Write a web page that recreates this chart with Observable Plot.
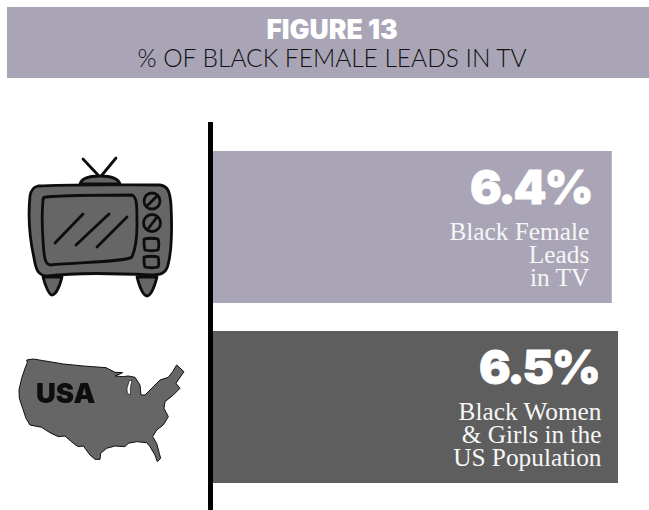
<!DOCTYPE html>
<html>
<head>
<meta charset="utf-8">
<script src="https://cdn.jsdelivr.net/npm/d3@7"></script>
<script src="https://cdn.jsdelivr.net/npm/@observablehq/plot@0.6"></script>
<style>
html,body{margin:0;padding:0;background:#fff;overflow:hidden}
#head{margin:7px 0 0 7px;height:71px;background:#a9a5b6;position:relative;width:642px}
#head div{position:absolute;left:4px;right:-4px;text-align:center;white-space:nowrap}
#t1{top:8px;font:900 26.5px/29px Inter,sans-serif;color:#fff}
#t2{top:36px;font:300 24.5px/30px Lato,sans-serif;color:#111}
svg{display:block}
</style>
</head>
<body>
<div id="head"><div id="t1">FIGURE 13</div><div id="t2">% OF BLACK FEMALE LEADS IN TV</div></div>
<div id="chart"></div>
<script>
const categories = ["Black Female Leads in TV", "Black Women & Girls in the US Population"];
const values = [6.4, 6.5];
const valueLabels = ["6.4%", "6.5%"];
const descriptions = ["Black Female\nLeads\nin TV", "Black Women\n& Girls in the\nUS Population"];
const barColors = ["#a9a5b6", "#5e5e5e"];

const table = categories.map((c, i) => ({
  category: c, value: values[i], label: valueLabels[i], description: descriptions[i], color: barColors[i]
}));

const ink = "#0d0d0d", iconFill = "#666666";
const tvShapes = [
  "M83 159L98 175M116 158L102 175",
  "M80 184C82 177 92 176 100 176C110 176 118 178 120 184Z",
  "M43 277L62 277C60 285 56 295 52 295C49 295 45 285 43 277Z",
  "M137 277L157 277C155 285 151 296 147 296C143 296 139 285 137 277Z",
  "M38 186C70 184 130 185 160 185C168 186 170 192 171 205C172 225 172 250 168 265C166 274 160 275 150 275C110 273 70 273 48 276C38 276 36 270 34 258C29 235 28 215 30 196C31 190 33 187 38 186Z",
  "M46 197C70 195 110 195 132 195C137 197 137 205 137 225C137 240 135 250 132 257C125 262 80 262 50 265C45 264 44 258 43 240C42 225 42 210 43 200C43 198 44 197 46 197Z",
  "M55 243L83 214M76 245L109 214M97 247L127 217",
  "M144 239C148 238 155 238 158 239C159 242 159 247 158 250C155 251 148 251 145 250C144 247 144 242 144 239Z",
  "M144 257C148 256 155 256 158 257C159 260 159 265 158 267C155 268 148 268 145 267C144 265 144 260 144 257Z",
  "M144 201a8 8 0 1 0 16 0a8 8 0 1 0 -16 0M147 206L157 196",
  "M143.500 223a8.500 8.500 0 1 0 17 0a8.500 8.500 0 1 0 -17 0M148 229L157 217"
];
const usaOutline = "M80 60L82 68L75 85L65 115L57 150L58 175L68 205L78 235L90 255L125 262L150 278L175 290L195 288L220 310L235 320L250 318L270 345L285 358L300 358L302 340L320 325L345 318L375 320L385 310L410 305L440 308L450 320L465 345L472 365L482 355L478 340L470 310L458 290L470 270L490 255L505 230L492 205L495 185L520 165L540 145L528 130L545 105L552 95L530 75L518 95L505 112L480 120L460 140L435 165L423 165L420 135L405 112L385 108L370 110L345 108L368 98L345 97L318 83L250 78L190 72L130 62L100 57Z";
const lakeShape = "M388 122L381 145L382 160L392 165L391 145L396 120Z";
const usaName = "USA";

function icons(index, scales, vals, dims, context) {
  const g = d3.create("svg:g").attr("transform", "translate(0,-78)").style("filter", "blur(0.4px)");
  const tv = g.append("g").attr("fill", iconFill).attr("stroke", ink).attr("stroke-width", 2.8)
    .attr("stroke-linejoin", "round").attr("stroke-linecap", "round");
  tvShapes.forEach(d => tv.append("path").attr("d", d));
  const us = g.append("g").attr("transform", "translate(0,340) scale(0.3333)");
  us.append("path").attr("d", usaOutline).attr("fill", iconFill).attr("stroke", ink).attr("stroke-width", 3).attr("stroke-linejoin", "round");
  us.append("path").attr("d", lakeShape).attr("fill", "#fff").attr("stroke", ink).attr("stroke-width", 2);
  g.append("text").attr("x", 36).attr("y", 403).attr("fill", ink).attr("text-anchor", "start")
    .attr("font-family", "Inter, sans-serif").attr("font-weight", 900).attr("font-size", 27.5).text(usaName);
  return g.node();
}

const rowText = (i, dxValue, dxDesc, dyValue, dyDesc) => [
  Plot.text([table[i]], {
    x: "value", y: "category", text: "label", textAnchor: "end", dx: dxValue, dy: dyValue,
    fill: "#fff", stroke: "#fff", strokeWidth: 0.8, fontFamily: "Inter, sans-serif", fontWeight: 900, fontSize: 47
  }),
  Plot.text([table[i]], {
    x: "value", y: "category", text: "description", textAnchor: "end", lineHeight: 0.9, dx: dxDesc, dy: dyDesc,
    fill: "#f6f6f6", fontFamily: "Liberation Serif, serif", fontSize: 25.3
  })
];

const chart = Plot.plot({
  width: 649, height: 432,
  marginTop: 44, marginBottom: 0, marginLeft: 0, marginRight: 0,
  x: {domain: [0, 6.5], range: [213, 618], axis: null},
  y: {domain: categories, range: [73, 405], padding: 28 / 180, paddingOuter: 0, align: 0, axis: null},
  marks: [
    Plot.barX(table, {x: "value", y: "category", fill: "color"}),
    Plot.ruleX([0], {stroke: "#000", strokeWidth: 5, dx: -3}),
    ...rowText(0, -21, -23, -39, 28),
    ...rowText(1, -20, -17, -39, 28),
    icons
  ]
});
chart.style.background = "transparent";
chart.querySelectorAll('g[font-size="47"]').forEach(g => g.style.letterSpacing = "-2.2px");
document.getElementById("chart").appendChild(chart);
</script>
</body>
</html>
